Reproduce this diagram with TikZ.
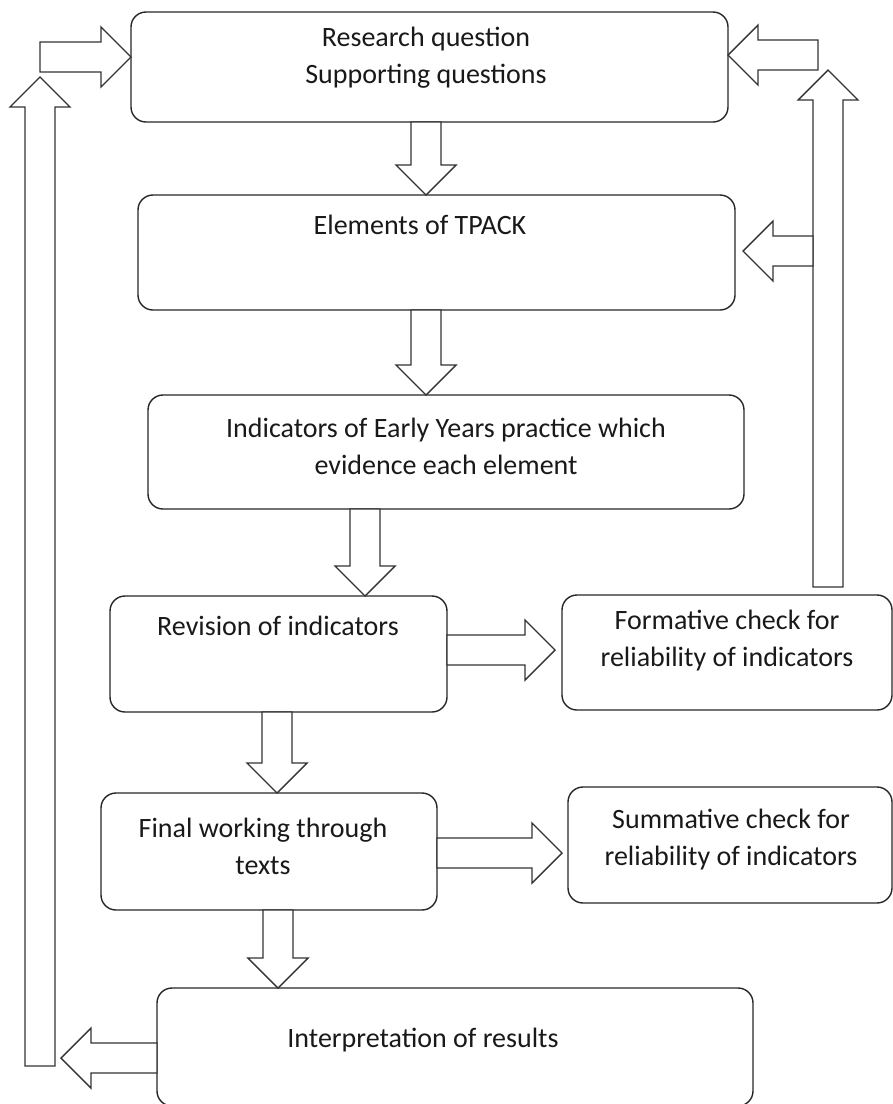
\documentclass[tikz,border=0pt]{standalone}
\usepackage{fontspec}
\setmainfont{Carlito}
\usetikzlibrary{calc}

% hollow block arrow from #1 (tail) to #2 (tip); #3 names its head-base point
\newcommand\blockarrow[3]{%
  \coordinate (#3h) at ($(#2)!30pt!(#1)$);
  \draw[blk] ($(#1)!15pt!90:(#2)$) -- ($(#3h)!15pt!90:(#2)$) -- ($(#3h)!30pt!90:(#2)$)
    -- (#2) -- ($(#3h)!30pt!-90:(#2)$) -- ($(#3h)!15pt!-90:(#2)$)
    -- ($(#1)!15pt!-90:(#2)$) -- cycle;
}

\begin{document}
\begin{tikzpicture}[x=1pt,y=-1pt,
  box/.style={draw=black!85, line width=1.4pt, rounded corners=15pt,
              inner sep=0pt, outer sep=0pt},
  lbl/.style={align=center, font=\fontsize{28}{37}\selectfont,
              text=black!90, inner sep=0pt},
  blk/.style={draw=black!80, line width=1.4pt, fill=white, line join=miter}]

\useasboundingbox (0,0) rectangle (893,1104);

% process boxes
\node[box, minimum width=597pt, minimum height=110pt] (b1) at (429.5,67) {};
\node[box, minimum width=597pt, minimum height=115pt] (b2) at (436.5,252.5) {};
\node[box, minimum width=596pt, minimum height=114pt] (b3) at (446,452) {};
\node[box, minimum width=337pt, minimum height=116pt] (b4) at (278.5,654) {};
\node[box, minimum width=330pt, minimum height=115pt] (b5) at (727,652.5) {};
\node[box, minimum width=336pt, minimum height=117pt] (b6) at (269,851.5) {};
\node[box, minimum width=324pt, minimum height=116pt] (b7) at (730,845) {};
\node[box, minimum width=596pt, minimum height=118pt] (b8) at (455,1047) {};

% free ends of the feedback arrows
\coordinate (ltail) at (40,57);
\coordinate (lbot)  at (40,1066);
\coordinate (ltip)  at (40,77);
\coordinate (rbot)  at (828,587);
\coordinate (rtip)  at (828,70);
\coordinate (rtail) at (818,55);
\coordinate (rmid)  at (813,251);
\coordinate (rmidtip) at (743,251);
\coordinate (ftip)  at (555,650);
\coordinate (stip)  at (562,853);
\coordinate (itip)  at (61,1058);

% main flow
\blockarrow{426,0 |- b1.south}{426,0 |- b2.north}{a1}
\blockarrow{426,0 |- b2.south}{426,0 |- b3.north}{a2}
\blockarrow{365,0 |- b3.south}{365,0 |- b4.north}{a3}
\blockarrow{277,0 |- b4.south}{277,0 |- b6.north}{a5}
\blockarrow{278,0 |- b6.south}{278,0 |- b8.north}{a7}

% side checks
\blockarrow{b4.east |- 0,650}{ftip}{a4}
\blockarrow{b6.east |- 0,853}{stip}{a6}

% left feedback loop
\blockarrow{b8.west |- 0,1058}{itip}{a8}
\blockarrow{lbot}{ltip}{v1}
\blockarrow{ltail}{b1.west |- 0,57}{a9}

% right feedback loop
\blockarrow{rbot}{rtip}{v2}
\blockarrow{rtail}{b1.east |- 0,55}{a10}
\blockarrow{rmid}{rmidtip}{a11}

% labels
\node[lbl] (t1) at (426,58) {Research question\\Supporting questions};
\node[lbl] (t2) at (420,225) {Elements of TPACK};
\node[lbl] (t3) at (446,446) {Indicators of Early Years practice which\\evidence each element};
\node[lbl] (t4) at (278,626) {Revision of indicators};
\node[lbl] (t5) at (727,641) {Formative check for\\reliability of indicators};
\node[lbl] (t6) at (263,846) {Final working through\\texts};
\node[lbl] (t7) at (731,840) {Summative check for\\reliability of indicators};
\node[lbl] (t8) at (423,1040) {Interpretation of results};
\end{tikzpicture}
\end{document}
